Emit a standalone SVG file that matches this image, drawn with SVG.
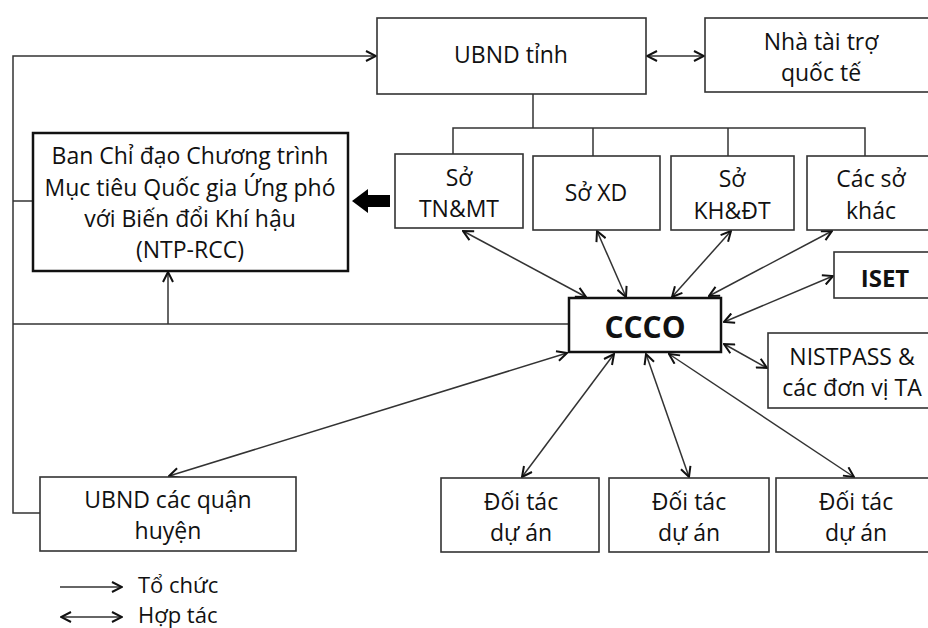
<svg xmlns="http://www.w3.org/2000/svg" width="928" height="628" viewBox="0 0 928 628">
<defs>
<style>
.box{fill:#fff;stroke:#333;stroke-width:1.6}
.bold{fill:#fff;stroke:#111;stroke-width:2.5}
.ln{fill:none;stroke:#333;stroke-width:1.5}
.t{font-family:"Open Sans","Liberation Sans",sans-serif;font-size:23px;fill:#111;text-anchor:middle}
.b{font-weight:bold}
.lg{font-size:22px;text-anchor:start}
</style>
<marker id="ah" viewBox="0 0 12 12" refX="11" refY="6" markerWidth="12" markerHeight="12" markerUnits="userSpaceOnUse" orient="auto-start-reverse">
<path d="M1,1 L11,6 L1,11" fill="none" stroke="#111" stroke-width="2"/>
</marker>
</defs>
<rect width="928" height="628" fill="#fff"/>

<g id="connectors">
<polyline class="ln" points="40,513 13,513 13,56 376,56" marker-end="url(#ah)"/>
<line class="ln" x1="13" y1="201" x2="33" y2="201"/>
<line class="ln" x1="13" y1="324" x2="569" y2="324"/>
<line class="ln" x1="168" y1="324" x2="168" y2="272" marker-end="url(#ah)"/>
<line class="ln" x1="647" y1="56" x2="704" y2="56" marker-start="url(#ah)" marker-end="url(#ah)"/>
<line class="ln" x1="533" y1="94" x2="533" y2="128"/>
<polyline class="ln" points="453,154 453,128 865,128 865,156"/>
<line class="ln" x1="593" y1="128" x2="593" y2="156"/>
<line class="ln" x1="728" y1="128" x2="728" y2="156"/>
<polygon points="352,201 368,189 368,195 390,195 390,207 368,207 368,213" fill="#000"/>
<line class="ln" x1="463" y1="231" x2="586" y2="297" marker-start="url(#ah)" marker-end="url(#ah)"/>
<line class="ln" x1="597" y1="231" x2="626" y2="297" marker-start="url(#ah)" marker-end="url(#ah)"/>
<line class="ln" x1="731" y1="231" x2="672" y2="297" marker-start="url(#ah)" marker-end="url(#ah)"/>
<line class="ln" x1="832" y1="231" x2="709" y2="296" marker-start="url(#ah)" marker-end="url(#ah)"/>
<line class="ln" x1="724" y1="322" x2="833" y2="276" marker-start="url(#ah)" marker-end="url(#ah)"/>
<line class="ln" x1="724" y1="344" x2="767" y2="368" marker-start="url(#ah)" marker-end="url(#ah)"/>
<line class="ln" x1="567" y1="353" x2="169" y2="476" marker-start="url(#ah)" marker-end="url(#ah)"/>
<line class="ln" x1="614" y1="354" x2="522" y2="477" marker-start="url(#ah)" marker-end="url(#ah)"/>
<line class="ln" x1="646" y1="354" x2="689" y2="477" marker-start="url(#ah)" marker-end="url(#ah)"/>
<line class="ln" x1="669" y1="354" x2="854" y2="477" marker-start="url(#ah)" marker-end="url(#ah)"/>
</g>

<g id="ubnd-tinh"><rect class="box" x="377" y="18" width="269" height="76"/><text class="t" x="511" y="63">UBND tỉnh</text></g>
<g id="nha-tai-tro"><rect class="box" x="705" y="18" width="226" height="74"/><text class="t" x="821" y="50">Nhà tài trợ</text><text class="t" x="821" y="81">quốc tế</text></g>
<g id="ban-chi-dao"><rect class="bold" x="33" y="133" width="315" height="138"/>
<text class="t" x="190" y="164">Ban Chỉ đạo Chương trình</text>
<text class="t" x="190" y="196">Mục tiêu Quốc gia Ứng phó</text>
<text class="t" x="190" y="227">với Biến đổi Khí hậu</text>
<text class="t" x="190" y="258">(NTP-RCC)</text></g>
<g id="so-tnmt"><rect class="box" x="395" y="154" width="128" height="74"/><text class="t" x="459" y="186">Sở</text><text class="t" x="459" y="217">TN&amp;MT</text></g>
<g id="so-xd"><rect class="box" x="533" y="156" width="127" height="74"/><text class="t" x="596" y="201">Sở XD</text></g>
<g id="so-khdt"><rect class="box" x="671" y="156" width="123" height="74"/><text class="t" x="732" y="187">Sở</text><text class="t" x="732" y="219">KH&amp;ĐT</text></g>
<g id="cac-so-khac"><rect class="box" x="807" y="156" width="124" height="74"/><text class="t" x="871" y="187">Các sở</text><text class="t" x="871" y="219">khác</text></g>
<g id="iset"><rect class="box" x="834" y="252" width="97" height="46"/><text class="t b" x="885" y="287" style="font-size:24px">ISET</text></g>
<g id="ccco"><rect class="bold" x="569" y="298" width="152" height="54"/><text class="t b" x="645" y="338" style="font-size:30px">CCCO</text></g>
<g id="nistpass"><rect class="box" x="768" y="333" width="163" height="75"/><text class="t" x="852" y="365">NISTPASS &amp;</text><text class="t" x="852" y="396">các đơn vị TA</text></g>
<g id="ubnd-quan-huyen"><rect class="box" x="40" y="477" width="256" height="74"/><text class="t" x="168" y="508">UBND các quận</text><text class="t" x="168" y="539">huyện</text></g>
<g id="doi-tac-1"><rect class="box" x="441" y="478" width="158" height="74"/><text class="t" x="521" y="510">Đối tác</text><text class="t" x="521" y="541">dự án</text></g>
<g id="doi-tac-2"><rect class="box" x="609" y="478" width="160" height="74"/><text class="t" x="689" y="510">Đối tác</text><text class="t" x="689" y="541">dự án</text></g>
<g id="doi-tac-3"><rect class="box" x="776" y="478" width="155" height="74"/><text class="t" x="856" y="510">Đối tác</text><text class="t" x="856" y="541">dự án</text></g>

<g id="legend">
<line class="ln" x1="60" y1="587" x2="122" y2="587" marker-end="url(#ah)"/>
<text class="t lg" x="138" y="593">Tổ chức</text>
<line class="ln" x1="61" y1="617" x2="122" y2="617" marker-start="url(#ah)" marker-end="url(#ah)"/>
<text class="t lg" x="138" y="623">Hợp tác</text>
</g>
</svg>
